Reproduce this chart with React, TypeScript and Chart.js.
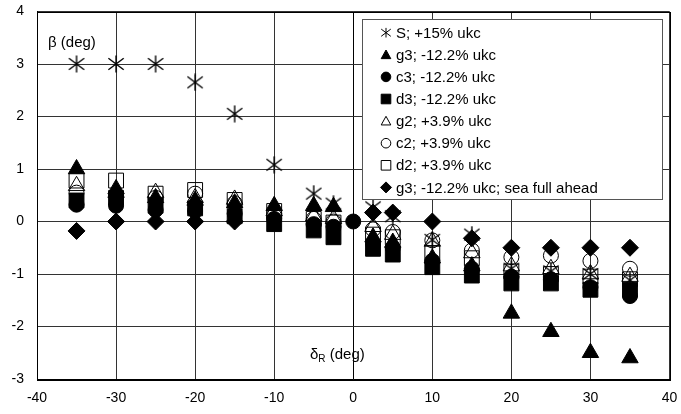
import React, { useEffect, useRef } from 'react';
import { Chart, registerables } from 'chart.js';
Chart.register(...registerables);

// rudder angle deltaR (deg)
const deltaR = [-35, -30, -25, -20, -15, -10, -5, -2.5, 0, 2.5, 5, 10, 15, 20, 25, 30, 35];

// drift angle beta (deg) per series
const sPlus15 = [3.0, 3.0, 3.0, 2.65, 2.05, 1.08, 0.53, 0.34, null, 0.27, 0.1, -0.35, -0.25, -0.9, -0.95, -1.0, -1.12];
const g3Minus122 = [1.0, 0.62, 0.45, 0.4, 0.35, 0.3, 0.3, 0.28, null, -0.3, -0.4, -0.7, -0.85, -1.75, -2.1, -2.5, -2.6];
const c3Minus122 = [0.32, 0.3, 0.22, 0.2, 0.15, 0.05, -0.05, -0.1, 0.0, -0.42, -0.5, -0.75, -0.9, -1.05, -1.1, -1.25, -1.42];
const d3Minus122 = [0.4, 0.45, 0.3, 0.25, 0.1, -0.05, -0.17, -0.3, null, -0.52, -0.63, -0.87, -1.03, -1.18, -1.18, -1.3, -1.3];
const g2Plus39 = [0.68, 0.55, 0.55, 0.45, 0.42, 0.2, 0.1, 0.05, null, -0.1, -0.25, -0.38, -0.6, -0.85, -0.9, -1.0, -1.05];
const c2Plus39 = [0.55, 0.5, 0.45, 0.53, 0.35, 0.15, 0.05, 0.0, null, -0.15, -0.2, -0.36, -0.55, -0.68, -0.65, -0.75, -0.9];
const d2Plus39 = [0.78, 0.78, 0.53, 0.6, 0.41, 0.2, 0.05, -0.02, null, -0.25, -0.3, -0.6, -0.7, -0.95, -1.0, -1.05, -1.1];
const g3SeaFullAhead = [-0.18, 0.0, 0.0, 0.0, 0.0, null, null, null, null, 0.17, 0.17, 0.0, -0.32, -0.5, -0.5, -0.5, -0.5];

const seriesLabels = [
  'S; +15% ukc',
  'g3; -12.2% ukc',
  'c3; -12.2% ukc',
  'd3; -12.2% ukc',
  'g2; +3.9% ukc',
  'c2; +3.9% ukc',
  'd2; +3.9% ukc',
  'g3; -12.2% ukc; sea full ahead',
];
const seriesValues = [sPlus15, g3Minus122, c3Minus122, d3Minus122, g2Plus39, c2Plus39, d2Plus39, g3SeaFullAhead];
const seriesStyles = ['asterisk', 'triangle', 'circle', 'rect', 'triangle', 'circle', 'rect', 'rectRot'];
const seriesFilled = [false, true, true, true, false, false, false, true];
const seriesRadius = [9, 9.5, 7.5, 10.5, 9.5, 7.5, 10.5, 8.5];

const xTicks = { min: -40, max: 40, step: 10 };
const yTicks = { min: -3, max: 4, step: 1 };

const FONT = 'Arial, "Liberation Sans", sans-serif';

function makeAsterisk(size: number): HTMLCanvasElement {
  const c = document.createElement('canvas');
  c.width = size;
  c.height = size;
  const ctx = c.getContext('2d')!;
  ctx.strokeStyle = '#000';
  ctx.lineWidth = 1.4;
  const m = size / 2;
  const r = size / 2 - 0.5;
  const d = r * 0.9;
  ctx.beginPath();
  ctx.moveTo(m - d, m - d * 0.75);
  ctx.lineTo(m + d, m + d * 0.75);
  ctx.moveTo(m + d, m - d * 0.75);
  ctx.lineTo(m - d, m + d * 0.75);
  ctx.moveTo(m, m - r);
  ctx.lineTo(m, m + r);
  ctx.stroke();
  return c;
}

function drawMarker(ctx: CanvasRenderingContext2D, style: string, filled: boolean, x: number, y: number, s: number) {
  ctx.save();
  ctx.strokeStyle = '#000';
  ctx.fillStyle = '#000';
  ctx.lineWidth = 1;
  ctx.beginPath();
  if (style === 'asterisk') {
    ctx.moveTo(x - s, y - s * 0.75);
    ctx.lineTo(x + s, y + s * 0.75);
    ctx.moveTo(x + s, y - s * 0.75);
    ctx.lineTo(x - s, y + s * 0.75);
    ctx.moveTo(x, y - s);
    ctx.lineTo(x, y + s);
    ctx.stroke();
    ctx.restore();
    return;
  }
  if (style === 'triangle') {
    ctx.moveTo(x, y - s);
    ctx.lineTo(x + s, y + s * 0.8);
    ctx.lineTo(x - s, y + s * 0.8);
    ctx.closePath();
  } else if (style === 'circle') {
    ctx.arc(x, y, s, 0, Math.PI * 2);
  } else if (style === 'rect') {
    ctx.rect(x - s, y - s, 2 * s, 2 * s);
  } else if (style === 'rectRot') {
    ctx.moveTo(x, y - s);
    ctx.lineTo(x + s, y);
    ctx.lineTo(x, y + s);
    ctx.lineTo(x - s, y);
    ctx.closePath();
  }
  if (filled) ctx.fill();
  ctx.stroke();
  ctx.restore();
}

const overlayPlugin = {
  id: 'overlay',
  afterDraw(chart: any) {
    const ctx: CanvasRenderingContext2D = chart.ctx;
    const a = chart.chartArea;
    ctx.save();
    // plot frame
    ctx.strokeStyle = '#000';
    ctx.lineWidth = 1;
    ctx.strokeRect(Math.round(a.left) + 0.5, Math.round(a.top) + 0.5, Math.round(a.right - a.left), Math.round(a.bottom - a.top));
    // axis titles inside plot
    ctx.fillStyle = '#000';
    ctx.textBaseline = 'middle';
    ctx.textAlign = 'left';
    ctx.font = `15px ${FONT}`;
    ctx.fillText('\u03b2 (deg)', a.left + 11, a.top + 31);
    const tx = a.left + 273;
    const ty = a.bottom - 24;
    ctx.fillText('\u03b4', tx, ty);
    const w1 = ctx.measureText('\u03b4').width;
    ctx.font = `10px ${FONT}`;
    ctx.fillText('R', tx + w1, ty + 4);
    const w2 = ctx.measureText('R').width;
    ctx.font = `15px ${FONT}`;
    ctx.fillText(' (deg)', tx + w1 + w2, ty);

    // legend box
    const lx = 362.5, ly = 19.5, lw = 300, lh = 180;
    ctx.fillStyle = '#fff';
    ctx.fillRect(lx, ly, lw, lh);
    ctx.strokeStyle = '#555';
    ctx.lineWidth = 1;
    ctx.strokeRect(lx, ly, lw, lh);
    const rowH = 22.1;
    for (let i = 0; i < seriesLabels.length; i++) {
      const cy = 32.7 + i * rowH;
      drawMarker(ctx, seriesStyles[i], seriesFilled[i], 386, cy, seriesStyles[i] === 'rectRot' ? 5.5 : 4.8);
      ctx.fillStyle = '#000';
      ctx.font = `15px ${FONT}`;
      ctx.textAlign = 'left';
      ctx.textBaseline = 'middle';
      ctx.fillText(seriesLabels[i], 396, cy + 1);
    }
    ctx.restore();
  },
};

export default function App() {
  const ref = useRef<HTMLCanvasElement | null>(null);
  useEffect(() => {
    document.body.style.margin = '0';
    const asterisk = makeAsterisk(18);
    const datasets = seriesLabels.map((label, i) => ({
      label,
      data: deltaR
        .map((x, j) => ({ x, y: seriesValues[i][j] }))
        .filter((p) => p.y !== null),
      pointStyle: seriesStyles[i] === 'asterisk' ? asterisk : seriesStyles[i],
      pointRadius: seriesRadius[i],
      pointBorderWidth: 1,
      pointBackgroundColor: seriesFilled[i] ? '#000' : 'rgba(0,0,0,0)',
      pointBorderColor: '#000',
      backgroundColor: seriesFilled[i] ? '#000' : 'rgba(0,0,0,0)',
      borderColor: '#000',
      showLine: false,
      order: seriesLabels.length - i,
    }));
    const chart = new Chart(ref.current!, {
      type: 'scatter',
      data: { datasets: datasets as any },
      options: {
        animation: false,
        responsive: false,
        maintainAspectRatio: false,
        layout: { padding: { top: 10, right: 9, left: 0, bottom: 0 } },
        plugins: { legend: { display: false }, tooltip: { enabled: false } },
        scales: {
          x: {
            type: 'linear',
            min: xTicks.min,
            max: xTicks.max,
            ticks: {
              stepSize: xTicks.step,
              color: '#000',
              font: { family: FONT, size: 14 },
              padding: 11,
              maxRotation: 0,
            },
            grid: {
              color: (c: any) => (c.tick && c.tick.value === 0 ? '#000' : '#333'),
              drawTicks: false,
            },
            border: { color: '#000', width: 1 },
            afterFit: (s: any) => {
              s.height = 35;
              s.paddingLeft = 0;
              s.paddingRight = 0;
            },
          },
          y: {
            type: 'linear',
            min: yTicks.min,
            max: yTicks.max,
            ticks: {
              stepSize: yTicks.step,
              color: '#000',
              font: { family: FONT, size: 14 },
              padding: 13,
            },
            grid: { color: '#333', drawTicks: false },
            border: { color: '#000', width: 1 },
            afterFit: (s: any) => {
              s.width = 37;
              s.paddingTop = 0;
              s.paddingBottom = 0;
            },
          },
        },
      } as any,
      plugins: [overlayPlugin],
    });
    return () => chart.destroy();
  }, []);
  return (
    <div style={{ width: 681, height: 414 }}>
      <canvas ref={ref} width={681} height={414} style={{ display: 'block', width: 681, height: 414 }} />
    </div>
  );
}
